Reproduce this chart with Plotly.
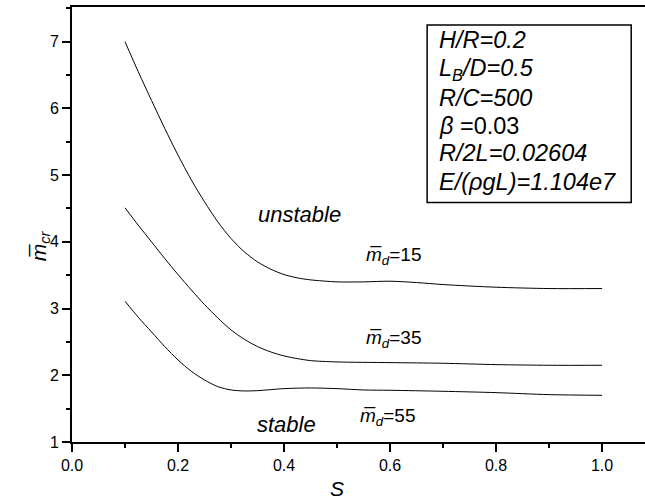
import plotly.graph_objects as go

# Data
s_15 = [0.10, 0.125, 0.15, 0.175, 0.20, 0.225, 0.25, 0.275, 0.30, 0.325, 0.35, 0.375,
        0.40, 0.425, 0.45, 0.50, 0.55, 0.60, 0.65, 0.70, 0.80, 0.90, 1.00]
m_15 = [7.00, 6.55, 6.12, 5.70, 5.30, 4.93, 4.60, 4.30, 4.05, 3.85, 3.70, 3.59,
        3.51, 3.46, 3.43, 3.40, 3.40, 3.41, 3.39, 3.36, 3.32, 3.30, 3.30]

s_35 = [0.10, 0.125, 0.15, 0.175, 0.20, 0.225, 0.25, 0.275, 0.30, 0.325, 0.35, 0.375,
        0.40, 0.425, 0.45, 0.50, 0.60, 0.70, 0.80, 0.90, 1.00]
m_35 = [4.51, 4.25, 4.00, 3.75, 3.51, 3.28, 3.06, 2.86, 2.68, 2.54, 2.43, 2.35,
        2.29, 2.25, 2.22, 2.20, 2.19, 2.18, 2.16, 2.15, 2.15]

s_55 = [0.10, 0.125, 0.15, 0.175, 0.20, 0.225, 0.25, 0.275, 0.30, 0.325, 0.35, 0.40,
        0.45, 0.50, 0.55, 0.60, 0.70, 0.80, 0.90, 1.00]
m_55 = [3.11, 2.87, 2.65, 2.43, 2.23, 2.06, 1.93, 1.83, 1.78, 1.765, 1.77, 1.80,
        1.81, 1.80, 1.78, 1.775, 1.76, 1.74, 1.71, 1.70]

param_lines = ["<i>H/R=0.2</i>", "<i>L<sub>B</sub>/D=0.5</i>", "<i>R/C=500</i>",
               "<i>β</i> =0.03", "<i>R/2L=0.02604</i>", "<i>E/(ρgL)=1.104e7</i>"]

FONT = "Liberation Sans, Arial, sans-serif"

fig = go.Figure()
for xs, ys in [(s_15, m_15), (s_35, m_35), (s_55, m_55)]:
    fig.add_trace(go.Scatter(x=xs, y=ys, mode="lines",
                             line=dict(color="black", width=1, shape="spline", smoothing=0.8),
                             showlegend=False, hoverinfo="skip"))

ann = []
def add(text, x, y, size, ref="x", **kw):
    d = dict(text=text, x=x, y=y, showarrow=False,
             xref="x" if ref == "x" else "paper", yref="y" if ref == "x" else "paper",
             font=dict(family=FONT, size=size, color="black"))
    d.update(kw)
    ann.append(d)

add("<i>unstable</i>", 0.43, 4.41, 22)
add("<i>stable</i>", 0.404, 1.26, 22)
add("<i>m\u0305</i><sub><i>d</i></sub>=15", 0.607, 3.79, 19)
add("<i>m\u0305</i><sub><i>d</i></sub>=35", 0.607, 2.55, 19)
add("<i>m\u0305</i><sub><i>d</i></sub>=55", 0.596, 1.38, 19)
add("<i>S</i>", 0.4625, -0.138, 21, ref="paper")
add("<i>m\u0305</i><sub><i>cr</i></sub>", -0.082, 0.45, 21, ref="paper", textangle=-90)

y_lines = [7.03, 6.58, 6.16, 5.74, 5.33, 4.90]
for t, yy in zip(param_lines, y_lines):
    add(t, 0.688, yy, 23.5, xanchor="left")

fig.add_shape(type="rect", xref="x", yref="y", x0=0.670, x1=1.055, y0=4.59, y1=7.25,
              line=dict(color="black", width=1.5), fillcolor="rgba(0,0,0,0)")

fig.update_layout(
    width=645, height=503,
    margin=dict(l=72, r=0, t=7, b=61),
    paper_bgcolor="white", plot_bgcolor="white",
    annotations=ann,
    font=dict(family=FONT, size=16, color="black"),
    xaxis=dict(range=[0, 1.081], showgrid=False, zeroline=False,
               showline=True, linecolor="black", linewidth=2, mirror=True,
               ticks="outside", ticklen=8, tickwidth=2, tickcolor="black",
               dtick=0.2, tick0=0, tickformat=".1f",
               minor=dict(ticks="outside", ticklen=4, tickwidth=1.5, dtick=0.1, tickcolor="black"),
               tickfont=dict(size=16)),
    yaxis=dict(range=[1, 7.52], showgrid=False, zeroline=False,
               showline=True, linecolor="black", linewidth=2, mirror=False,
               ticks="outside", ticklen=8, tickwidth=2, tickcolor="black",
               dtick=1, tick0=0,
               minor=dict(ticks="outside", ticklen=4, tickwidth=1.5, dtick=0.5, tickcolor="black"),
               tickfont=dict(size=16)),
)

fig.write_html("out.html")
